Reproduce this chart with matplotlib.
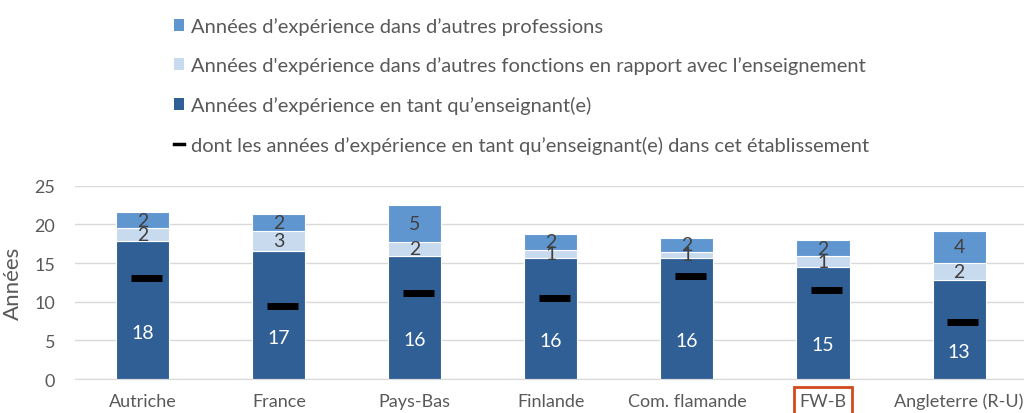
import matplotlib
matplotlib.use("Agg")
import matplotlib.pyplot as plt
import numpy as np
from matplotlib.lines import Line2D
from matplotlib.patches import Patch

plt.rcParams['font.family'] = ['Lato', 'DejaVu Sans']

categories = ["Autriche", "France", "Pays-Bas", "Finlande", "Com. flamande", "FW-B", "Angleterre (R-U)"]
teacher = [17.8, 16.6, 15.95, 15.65, 15.65, 14.5, 12.75]
related = [1.7, 2.6, 1.78, 1.08, 0.78, 1.35, 2.3]
other = [2.1, 2.1, 4.8, 2.05, 1.85, 2.1, 4.1]
this_school = [13.1, 9.5, 11.15, 10.45, 13.3, 11.45, 7.43]
teacher_labels = ["18", "17", "16", "16", "16", "15", "13"]
related_labels = ["2", "3", "2", "1", "1", "1", "2"]
other_labels = ["2", "2", "5", "2", "2", "2", "4"]

leg_labels = [
    "Années d\u2019expérience dans d\u2019autres professions",
    "Années d'expérience dans d\u2019autres fonctions en rapport avec l\u2019enseignement",
    "Années d\u2019expérience en tant qu\u2019enseignant(e)",
    "dont les années d\u2019expérience en tant qu\u2019enseignant(e) dans cet établissement",
]

c_other = "#6096cf"
c_rel = "#c8daee"
c_teach = "#2f5f95"
txt_gray = "#595959"

fig = plt.figure(figsize=(10.24, 4.14), dpi=100)
ax = fig.add_axes([0.073, 0.0821, 0.93, 0.4669])

x = np.arange(len(categories))
w = 0.39
teacher = np.array(teacher); related = np.array(related); other = np.array(other)
ax.bar(x, teacher, w, color=c_teach, edgecolor="white", linewidth=0.8, zorder=2)
ax.bar(x, related, w, bottom=teacher, color=c_rel, edgecolor="white", linewidth=0.8, zorder=2)
ax.bar(x, other, w, bottom=teacher + related, color=c_other, edgecolor="white", linewidth=0.8, zorder=2)
ax.hlines(this_school, x - 0.09, x + 0.14, color="black", linewidth=5, zorder=3)

for i in range(len(categories)):
    ax.text(x[i], teacher[i] * 0.48 - 2.54, teacher_labels[i], ha="center", va="center",
            color="white", fontsize=14, zorder=4)
    ax.text(x[i], teacher[i] + related[i] / 2, related_labels[i], ha="center", va="center",
            color="#404040", fontsize=14, zorder=4)
    ax.text(x[i], teacher[i] + related[i] + other[i] / 2, other_labels[i], ha="center", va="center",
            color="#404040", fontsize=14, zorder=4)

ax.set_xlim(-0.5, len(categories) - 0.5)
ax.set_ylim(0, 25)
ax.set_yticks(range(0, 26, 5))
ax.yaxis.grid(True, color="#d9d9d9", linewidth=1)
ax.set_axisbelow(True)
for s in ["top", "right", "left"]:
    ax.spines[s].set_visible(False)
ax.spines["bottom"].set_color("#d9d9d9")
ax.tick_params(axis="both", length=0, labelsize=13, labelcolor=txt_gray)
ax.tick_params(axis="y", pad=14)
ax.set_xticks(x)
ax.set_xticklabels(categories)
ax.tick_params(axis="x", pad=10)
ax.set_ylabel("Années", fontsize=16, color=txt_gray, labelpad=8)

for lbl in ax.get_xticklabels():
    if lbl.get_text() == "FW-B":
        lbl.set_bbox(dict(facecolor="none", edgecolor="#d24b1e", linewidth=2, pad=4))

handles = [
    Patch(facecolor=c_other, edgecolor="none"),
    Patch(facecolor=c_rel, edgecolor="none"),
    Patch(facecolor=c_teach, edgecolor="none"),
    Line2D([0], [0], color="black", linewidth=2.5),
]
fig.legend(handles, leg_labels, loc="upper left", bbox_to_anchor=(0.152, 1.0),
           frameon=False, fontsize=14.5, labelcolor=txt_gray, handlelength=0.5,
           handleheight=0.5, handletextpad=0.35, labelspacing=1.07)

fig.savefig("out.png", dpi=100)
